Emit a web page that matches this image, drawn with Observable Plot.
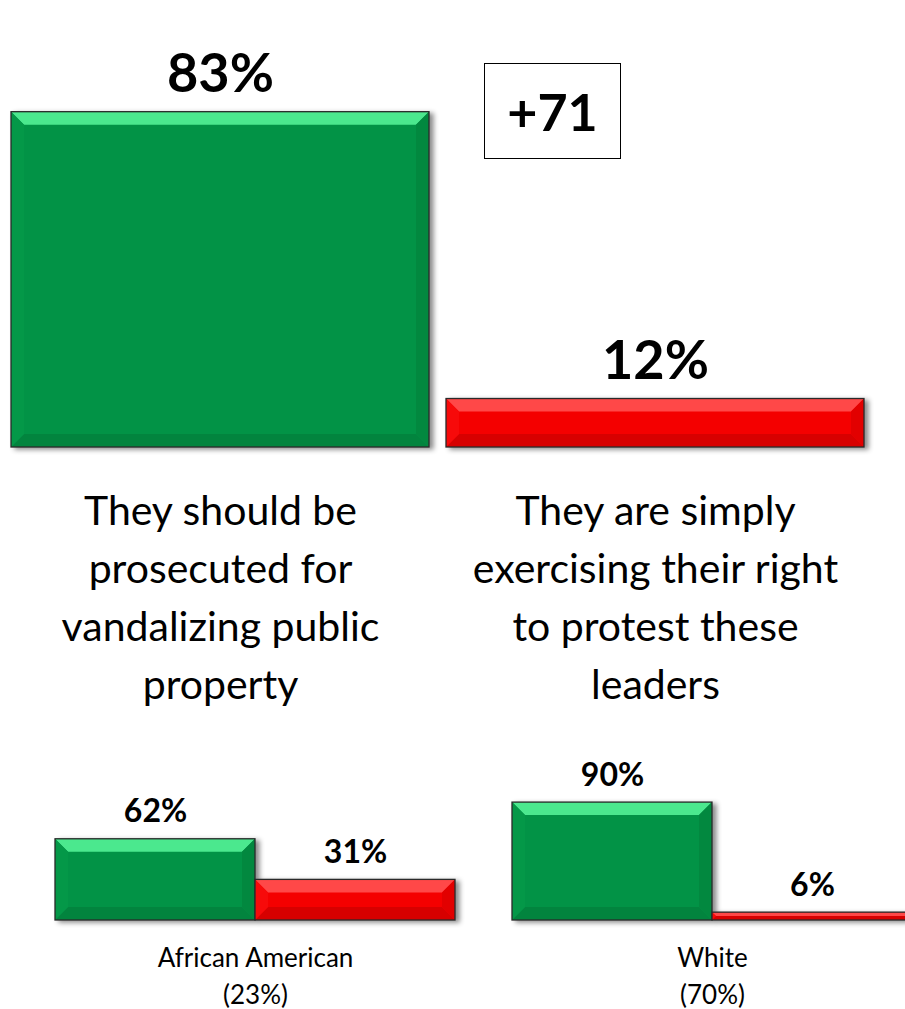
<!DOCTYPE html>
<html>
<head>
<meta charset="utf-8">
<script src="https://cdn.jsdelivr.net/npm/d3@7"></script>
<script src="https://cdn.jsdelivr.net/npm/@observablehq/plot@0.6"></script>
<style>
  html, body { margin: 0; padding: 0; background: #fff; overflow: hidden; }
  #wrap { position: relative; width: 905px; height: 1009px; overflow: hidden; font-family: Lato, "Open Sans", sans-serif; }
  #wrap > div { position: absolute; }
  #wrap svg { max-width: none !important; }
  #gap { display: flex; align-items: center; justify-content: center; box-sizing: border-box;
         border: 1.5px solid #000; font-weight: bold; font-size: 52px; color: #000; }
</style>
</head>
<body>
<div id="wrap">
  <div id="main" style="left:0;top:0;width:905px"></div>
  <div id="gap" style="left:484px;top:63px;width:137px;height:96px"></div>
  <div id="aa" style="left:55px;top:740px;width:400px"></div>
  <div id="white" style="left:512px;top:740px;width:400px"></div>
</div>
<script>
// ---- data ----
const categories = [
  "They should be\nprosecuted for\nvandalizing public\nproperty",
  "They are simply\nexercising their right\nto protest these\nleaders"
];
const overallValues = [83, 12];
const groupLabels = ["African American\n(23%)", "White\n(70%)"];
const aaValues = [62, 31];
const whiteValues = [90, 6];
const barColors = ["#029346", "#F40000"];

// bevel shades keyed by main colour
const shades = {
  "#029346": {top: "#4BE88E", bottom: "#02843E", left: "#049848", right: "#02883F"},
  "#F40000": {top: "#FF4848", bottom: "#D70000", left: "#F70A0A", right: "#E20000"}
};

function rows(values) {
  return categories.map((c, i) => ({cat: c, value: values[i]}));
}

function bevel(svg, size) {
  const ns = "http://www.w3.org/2000/svg";
  const g = svg.querySelector('g[aria-label="bar"]');
  if (!g) return;
  g.style.filter = "drop-shadow(4px 2px 2.5px rgba(0,0,0,0.45))";
  const rects = Array.from(g.querySelectorAll("rect"));
  rects.forEach((r, i) => {
    const x = +r.getAttribute("x"), y = +r.getAttribute("y");
    const w = +r.getAttribute("width"), h = +r.getAttribute("height");
    const fill = r.getAttribute("fill") || barColors[i % 2];
    const s = shades[fill] || shades[barColors[i % 2]];
    const b = Math.min(size, h / 2, w / 2);
    const polys = [
      [s.top,    [[x, y], [x + w, y], [x + w - b, y + b], [x + b, y + b]]],
      [s.bottom, [[x, y + h], [x + w, y + h], [x + w - b, y + h - b], [x + b, y + h - b]]],
      [s.left,   [[x, y], [x + b, y + b], [x + b, y + h - b], [x, y + h]]],
      [s.right,  [[x + w, y], [x + w - b, y + b], [x + w - b, y + h - b], [x + w, y + h]]]
    ];
    for (const [col, pts] of polys) {
      const p = document.createElementNS(ns, "polygon");
      p.setAttribute("points", pts.map(q => q.join(",")).join(" "));
      p.setAttribute("fill", col);
      g.appendChild(p);
    }
    const o = document.createElementNS(ns, "rect");
    o.setAttribute("x", x); o.setAttribute("y", y);
    o.setAttribute("width", w); o.setAttribute("height", h);
    o.setAttribute("fill", "none");
    o.setAttribute("stroke", "#2a2a2a");
    o.setAttribute("stroke-width", "1.3");
    g.appendChild(o);
  });
}

// ---- main chart ----
const mainData = rows(overallValues);
const main = Plot.plot({
  width: 905,
  height: 720,
  marginLeft: 10,
  marginRight: 41,
  marginTop: 43,
  marginBottom: 273,
  style: {fontFamily: "Lato, 'Open Sans', sans-serif", color: "#000", background: "transparent"},
  x: {domain: categories, paddingInner: 0.04, paddingOuter: 0, axis: null},
  y: {domain: [0, 100], axis: null},
  color: {domain: categories, range: barColors},
  marks: [
    Plot.barY(mainData, {x: "cat", y: "value", fill: "cat"}),
    Plot.text(mainData, {x: "cat", y: "value", text: d => d.value + "%", lineAnchor: "bottom",
      dy: -20, fontSize: 54, fontWeight: "bold", fill: "#000"}),
    Plot.text(mainData, {x: "cat", text: "cat", frameAnchor: "bottom", lineAnchor: "top",
      dy: 36, fontSize: 41, lineHeight: 1.42, fill: "#000"})
  ]
});
bevel(main, 13);
document.getElementById("main").appendChild(main);
document.getElementById("gap").textContent = "+" + (overallValues[0] - overallValues[1]);

// ---- small group charts ----
function small(values, label) {
  const data = rows(values);
  const svg = Plot.plot({
    width: 400,
    height: 269,
    marginLeft: 0,
    marginRight: 0,
    marginTop: 49,
    marginBottom: 89,
    style: {fontFamily: "Lato, 'Open Sans', sans-serif", color: "#000", background: "transparent", overflow: "visible"},
    x: {domain: categories, paddingInner: 0, paddingOuter: 0, axis: null},
    y: {domain: [0, 100], axis: null},
    color: {domain: categories, range: barColors},
    marks: [
      Plot.barY(data, {x: "cat", y: "value", fill: "cat"}),
      Plot.text(data, {x: "cat", y: "value", text: d => d.value + "%", lineAnchor: "bottom",
        dy: -17, fontSize: 32, fontWeight: "bold", fill: "#000"}),
      Plot.text([label], {text: d => d, frameAnchor: "bottom", lineAnchor: "top",
        dy: 21, fontSize: 26, lineHeight: 1.4, fill: "#000"})
    ]
  });
  bevel(svg, 13);
  return svg;
}
document.getElementById("aa").appendChild(small(aaValues, groupLabels[0]));
document.getElementById("white").appendChild(small(whiteValues, groupLabels[1]));
</script>
</body>
</html>
